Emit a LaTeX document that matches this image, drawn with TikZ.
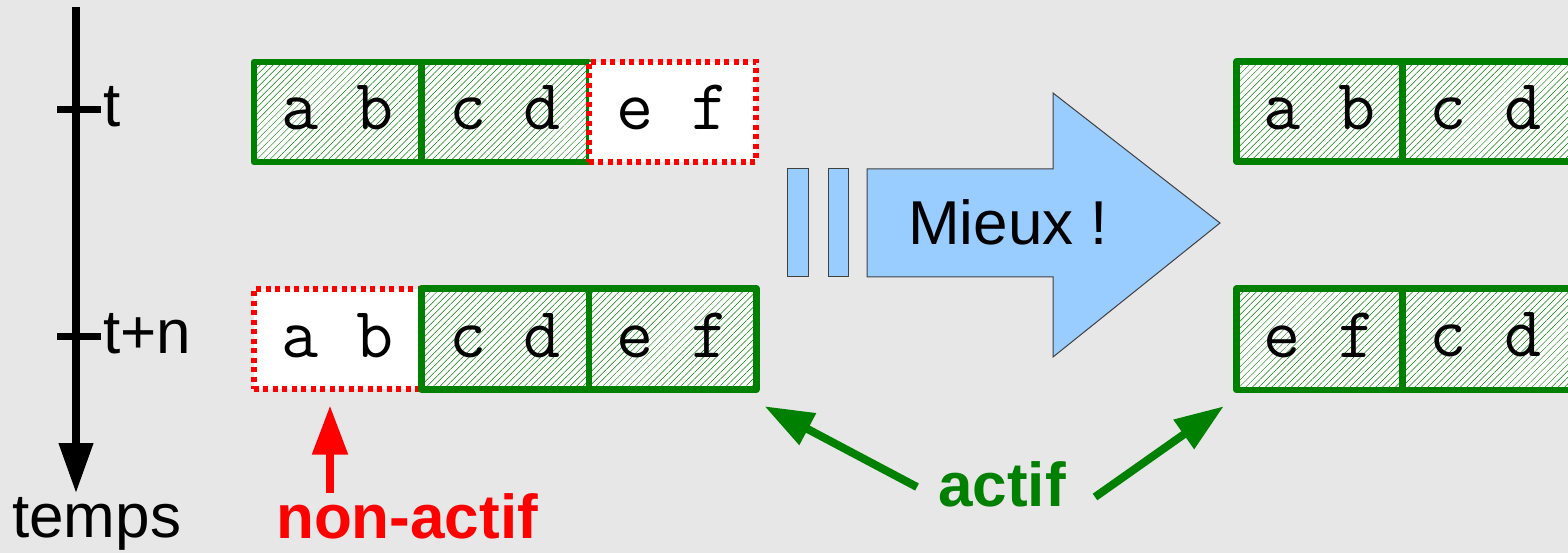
\documentclass[tikz,border=0pt]{standalone}
\usepackage{fontspec}
\setmainfont{Liberation Sans}
\usetikzlibrary{arrows.meta,patterns.meta,calc}
\definecolor{bg}{RGB}{231,231,231}
\definecolor{dgreen}{RGB}{0,128,0}
\definecolor{lblue}{RGB}{153,204,255}
\begin{document}
\begin{tikzpicture}[x=1pt,y=-1pt,
  big/.style={font=\fontsize{62}{70}\selectfont, inner sep=0pt},
  bigbold/.style={font=\bfseries\fontsize{62}{70}\selectfont, inner sep=0pt},
  monotxt/.style={font=\ttfamily\fontsize{72}{80}\selectfont, inner sep=0pt},
  cellbase/.style={minimum height=100pt, minimum width=167.5pt, inner sep=0pt,
     text height=40pt, text depth=4pt, font=\ttfamily\fontsize{72}{80}\selectfont},
  cellG/.style={cellbase, draw=dgreen, line width=6.5pt, line join=round,
     preaction={fill=white},
     pattern={Lines[angle=45,distance=4.6pt,line width=0.5pt]}, pattern color=dgreen},
  cellR/.style={cellbase, draw=red, line width=6pt, dash pattern=on 5pt off 4.5pt, fill=white},
  arr/.style={line width=8pt, -{Triangle[length=49pt,width=34pt]}},
  bluebox/.style={fill=lblue, draw=black!75, line width=1pt}
]
\useasboundingbox (0,0) rectangle (1568,553);
\clip (0,0) rectangle (1568,553);
\fill[bg] (0,0) rectangle (1568,553);

% time axis
\coordinate (axtop) at (76,7);
\coordinate (axbot) at (76,493);
\draw[line width=7.5pt, -{Triangle[length=50pt,width=33pt]}] (axtop) -- (axbot);
\coordinate (tk1a) at (57,110); \coordinate (tk1b) at (101,110);
\coordinate (tk2a) at (57,336); \coordinate (tk2b) at (101,336);
\draw[line width=7pt] (tk1a) -- (tk1b);
\draw[line width=7pt] (tk2a) -- (tk2b);
\node[big, anchor=base west] (lt) at (103,127) {t};
\node[big, anchor=base west] (ltn) at (103,353) {t+n};
\node[big, anchor=base west] (ltemps) at (12,537) {temps};

% left block, top row
\node[cellG] (ab1) at (337.5,112) {a b};
\node[cellG] (cd1) at (505,112) {c d};
\node[cellR] (ef1) at (672.5,112) {e f};
% left block, bottom row
\node[cellR] (ab1b) at (337.5,339) {a b};
\node[cellG, minimum height=101pt] (cd1b) at (505,339) {c d};
\node[cellG, minimum height=101pt] (ef1b) at (672.5,339) {e f};

% right block
\node[cellG, minimum width=166pt] (ab2) at (1319.5,111.5) {a b};
\node[cellG, minimum width=400pt] (cd2) at (1602.5,111.5) {};
\node[monotxt, anchor=base] (cd2t) at (1485.5,130) {c d};
\node[cellG, minimum width=166pt, minimum height=101.5pt] (ef2) at (1319.5,339.25) {e f};
\node[cellG, minimum width=400pt, minimum height=101.5pt] (cd3) at (1602.5,339.25) {};
\node[monotxt, anchor=base] (cd3t) at (1485.5,356) {c d};

% big arrow
\draw[bluebox] (787,169) rectangle (808,277);
\draw[bluebox] (828,169) rectangle (848,277);
\draw[bluebox, line join=miter] (867,169) -- (1053,169) -- (1053,93) -- (1220,223)
   -- (1053,357) -- (1053,277) -- (867,277) -- cycle;
\node[big, anchor=base west] (mieux) at (908,245) {Mieux !};

% labels and arrows
\node[bigbold, text=red, anchor=base west] (nonactif) at (276,538) {non-actif};
\node[bigbold, text=dgreen, anchor=base west] (actif) at (938,506) {actif};
\coordinate (ntail) at (330,493);
\coordinate (ntip) at ($(ab1b.south)+(-7.5,13.5)$);
\draw[arr, red] (ntail) -- (ntip);
\coordinate (gLtail) at (917,487);
\coordinate (gLtip) at ($(ef1b.south east)+(5,13.5)$);
\draw[arr, dgreen] (gLtail) -- (gLtip);
\coordinate (gRtail) at (1095,497);
\coordinate (gRtip) at ($(ef2.south west)+(-9.5,13)$);
\draw[arr, dgreen] (gRtail) -- (gRtip);
\end{tikzpicture}
\end{document}
